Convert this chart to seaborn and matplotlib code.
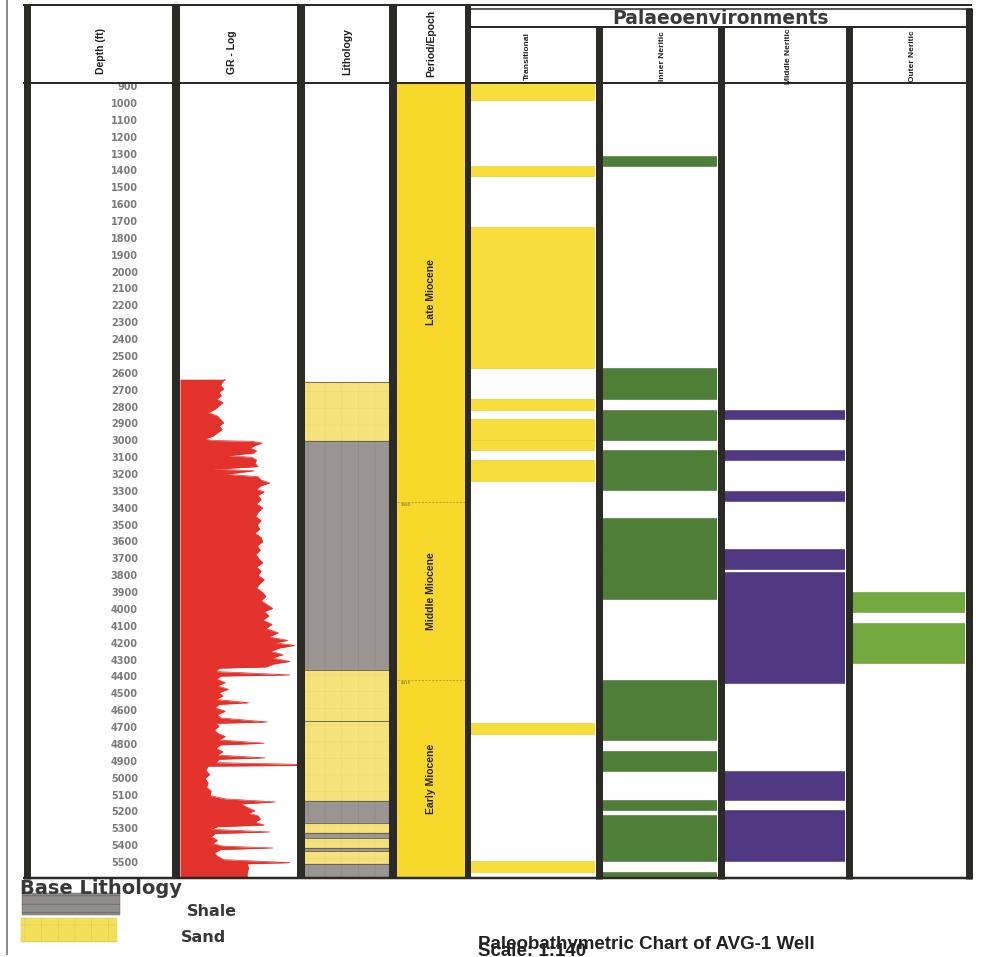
import numpy as np
import pandas as pd
import matplotlib
matplotlib.use("Agg")
import matplotlib.pyplot as plt
import seaborn as sns
from matplotlib.patches import Rectangle

sns.set_theme(style="white")
plt.rcParams["font.family"] = ["DejaVu Sans"]
plt.rcParams["hatch.linewidth"] = 0.4

W, H = 985, 957
TOP_DEPTH, BASE_DEPTH = 876, 5589
depth_ticks = list(range(900, 5600, 100))

# Gamma-ray log (depth in ft, GR in API)
gr_depth = [2632, 2650, 2670, 2690, 2710, 2730, 2750, 2770, 2790, 2810, 2830, 2850,
            2870, 2890, 2910, 2930, 2950, 2970, 2985, 2995, 3000, 3010, 3025, 3040,
            3055, 3070, 3085, 3095, 3110, 3130, 3150, 3165, 3175, 3195, 3210, 3230,
            3247, 3265, 3285, 3300, 3320, 3345, 3370, 3395, 3420, 3445, 3470, 3495,
            3520, 3545, 3570, 3595, 3620, 3645, 3670, 3695, 3720, 3745, 3770, 3795,
            3820, 3845, 3870, 3895, 3920, 3945, 3970, 3990, 4010, 4035, 4060, 4085,
            4110, 4135, 4160, 4180, 4195, 4210, 4225, 4245, 4265, 4285, 4305, 4320,
            4338, 4345, 4365, 4385, 4392, 4410, 4430, 4450, 4470, 4490, 4510, 4530,
            4550, 4560, 4580, 4600, 4620, 4640, 4664, 4672, 4690, 4710, 4730, 4750,
            4770, 4790, 4800, 4820, 4840, 4860, 4877, 4885, 4905, 4915, 4922, 4926,
            4950, 4975, 5000, 5025, 5050, 5075, 5100, 5120, 5138, 5150, 5170, 5190,
            5205, 5220, 5240, 5258, 5275, 5285, 5300, 5316, 5325, 5345, 5365, 5385,
            5400, 5411, 5420, 5440, 5460, 5480, 5498, 5505, 5530, 5560, 5589]
gr_api = [58, 54, 52, 56, 50, 53, 47, 55, 50, 45, 36, 48,
          52, 56, 50, 54, 48, 42, 32, 40, 92, 105, 96, 90,
          98, 94, 62, 92, 98, 96, 100, 42, 95, 58, 100, 104,
          115, 103, 98, 108, 100, 104, 98, 106, 100, 97, 104, 99,
          102, 96, 104, 106, 99, 103, 97, 101, 106, 98, 104, 100,
          108, 102, 98, 106, 110, 104, 112, 119, 108, 114, 106, 118,
          110, 126, 114, 138, 122, 147, 128, 116, 132, 118, 141, 120,
          110, 50, 46, 141, 52, 47, 58, 48, 62, 50, 55, 46,
          88, 50, 45, 58, 48, 52, 112, 46, 50, 44, 48, 58,
          50, 108, 52, 46, 55, 48, 109, 50, 46, 150, 150, 36,
          33, 38, 32, 36, 34, 40, 38, 58, 122, 78, 86, 96,
          88, 100, 103, 96, 108, 48, 40, 115, 45, 40, 48, 42,
          55, 119, 52, 44, 48, 56, 141, 86, 88, 86, 86]

# Lithology layers
lith_top = [2650, 3000, 4356, 4658, 5132, 5263, 5322, 5352, 5411, 5429, 5506]
lith_base = [3000, 4356, 4658, 5132, 5263, 5322, 5352, 5411, 5429, 5506, 5589]
lith_type = ["Sand", "Shale", "Sand", "Sand", "Shale", "Sand", "Shale", "Sand",
             "Shale", "Sand", "Shale"]

# Epochs
epoch_names = ["Late Miocene", "Middle Miocene", "Early Miocene"]
epoch_top = [876, 3360, 4415]
epoch_base = [3360, 4415, 5589]

# Palaeoenvironment intervals
env_names = ["Transitional", "Inner Neritic", "Middle Neritic", "Outer Neritic"]
trans_top = [876, 1370, 1730, 2750, 2870, 2990, 3110, 4670, 5490]
trans_base = [975, 1430, 2565, 2815, 2990, 3050, 3235, 4735, 5555]
inner_top = [1310, 2565, 2815, 3050, 3455, 3640, 3755, 4415, 4435, 4835, 5125, 5215, 5555]
inner_base = [1370, 2750, 2990, 3290, 3640, 3755, 3935, 4435, 4770, 4955, 5185, 5490, 5589]
middle_top = [2815, 3050, 3295, 3640, 3775, 4955, 5185]
middle_base = [2868, 3110, 3355, 3755, 4435, 5125, 5490]
outer_top = [3895, 4075]
outer_base = [4010, 4315]

RED = "#e3312b"
SAND = "#f5e27a"
SHALE = "#9a9592"
EPOCH_YELLOW = "#f7d82b"
TRANS_YELLOW = "#f7dd3a"
INNER_GREEN = "#4f7e39"
MIDDLE_PURPLE = "#513883"
OUTER_GREEN = "#73a93e"
LINE = "#2b2a27"
HEAD = dict(family=["Liberation Sans", "DejaVu Sans"], fontweight="bold")

fig = plt.figure(figsize=(W / 100, H / 100), dpi=100)
fig.patch.set_facecolor("white")


def add_col(x0, x1, y0=83, y1=878):
    ax = fig.add_axes([x0 / W, 1 - y1 / H, (x1 - x0) / W, (y1 - y0) / H])
    ax.set_ylim(BASE_DEPTH, TOP_DEPTH)
    ax.set_xlim(0, 1)
    ax.set_axis_off()
    return ax


def draw_bands(ax, tops, bases, color, edge=None):
    tops = np.asarray(tops, float)
    bases = np.asarray(bases, float)
    ax.barh(y=(tops + bases) / 2, width=1, height=bases - tops, left=0,
            color=color, edgecolor=edge if edge else color, linewidth=0.4)


# Depth column
ax_d = add_col(30, 172)
for d in depth_ticks:
    ax_d.text(0.76, d, f"{d}", transform=ax_d.get_yaxis_transform(), ha="right",
              va="center", fontsize=7, fontweight="bold", color="#7a7a7a")

# GR log
ax_gr = add_col(180, 297)
ax_gr.fill_betweenx(gr_depth, 0, gr_api, color=RED, linewidth=0)
sns.lineplot(x=gr_api, y=gr_depth, orient="y", sort=False, estimator=None,
             color=RED, linewidth=0.5, ax=ax_gr)
ax_gr.set_xlim(0, 150)
ax_gr.set_ylim(BASE_DEPTH, TOP_DEPTH)
ax_gr.set_axis_off()

# Lithology
ax_l = add_col(305, 389)
for t, b, kind in zip(lith_top, lith_base, lith_type):
    if kind == "Sand":
        ax_l.barh(y=(t + b) / 2, width=1, height=b - t, left=0, color=SAND,
                  edgecolor="#ecd876", hatch="+", linewidth=0.2)
    else:
        ax_l.barh(y=(t + b) / 2, width=1, height=b - t, left=0, color=SHALE,
                  edgecolor="#8a8582", hatch="|", linewidth=0.2)
    ax_l.axhline(t, color="#5d5a52", linewidth=0.6)

# Period / Epoch
ax_p = add_col(397, 466)
for name, t, b in zip(epoch_names, epoch_top, epoch_base):
    ax_p.barh(y=(t + b) / 2, width=1, height=b - t, left=0, color=EPOCH_YELLOW,
              linewidth=0)
    ax_p.text(0.5, (t + b) / 2, name, rotation=90, ha="center", va="center",
              fontsize=7.5, color="#2a2410", **HEAD)
for t in epoch_top[1:]:
    ax_p.axhline(t, color="#a08f2a", linewidth=0.5, linestyle=(0, (3, 2)))
    ax_p.text(0.05, t + 8, f"{t}", ha="left", va="top", fontsize=3,
              color="#6a6030")

# Palaeoenvironment columns
env_spans = [(470, 595), (602, 717), (724, 845), (852, 965)]
env_sets = [(trans_top, trans_base, TRANS_YELLOW, "#e7c92a"),
            (inner_top, inner_base, INNER_GREEN, "#44702f"),
            (middle_top, middle_base, MIDDLE_PURPLE, "#463077"),
            (outer_top, outer_base, OUTER_GREEN, "#669a36")]
for (x0, x1), (tops, bases, col, edge) in zip(env_spans, env_sets):
    ax_e = add_col(x0, x1)
    draw_bands(ax_e, tops, bases, col, edge)

# Frame, separators, headers and legend in pixel space
ov = fig.add_axes([0, 0, 1, 1], zorder=10)
ov.set_xlim(0, W)
ov.set_ylim(H, 0)
ov.set_axis_off()
ov.patch.set_alpha(0)

PT = 0.72  # points per pixel at 100 dpi

ov.plot([7, 7], [0, 955], color="#8a8a8a", linewidth=2 * PT, solid_capstyle="butt")

vlines = [(26.5, 7, 5), (176, 8, 5), (301, 8, 5), (393, 8, 5), (468, 6, 5),
          (598.5, 7, 27), (720.5, 7, 27), (848.5, 7, 27), (968.5, 7, 8)]
for x, w, ytop in vlines:
    ov.plot([x, x], [ytop, 879], color=LINE, linewidth=w * PT, solid_capstyle="butt")

for y, x0, x1, w in [(5, 23, 972, 2), (83, 23, 972, 2), (878, 23, 972, 2.5),
                     (8.5, 468, 972, 1.5), (26.5, 468, 972, 2)]:
    ov.plot([x0, x1], [y, y], color=LINE, linewidth=w * PT, solid_capstyle="butt")

ov.text(720, 18, "Palaeoenvironments", ha="center", va="center", fontsize=13.5,
        fontweight="bold", color="#3a3a3a")

headers = [(101, 51, "Depth (ft)"), (232, 52, "GR - Log"),
           (347, 52, "Lithology"), (431, 43, "Period/Epoch")]
for x, y, txt in headers:
    ov.text(x, y, txt, rotation=90, ha="center", va="center", fontsize=7.5,
            color="#1e1e1e", **HEAD)
for x, txt in zip([527, 663, 788, 913], env_names):
    ov.text(x, 56, txt, rotation=90, ha="center", va="center", fontsize=6,
            color="#1e1e1e", **HEAD)

# Lithology legend
ov.text(20, 889, "Base Lithology", ha="left", va="center", fontsize=14,
        fontweight="bold", color="#383838")
ov.add_patch(Rectangle((22, 893), 98, 22, facecolor="#8f8c8a", edgecolor="#5a5856",
                       hatch="--", linewidth=0.3))
ov.add_patch(Rectangle((21, 918), 96, 24, facecolor="#f3e05a", edgecolor="#ddc94f",
                       hatch="+", linewidth=0.3))
ov.text(212, 912, "Shale", ha="center", va="center", fontsize=11.5,
        fontweight="bold", color="#383838")
ov.text(203, 937, "Sand", ha="center", va="center", fontsize=11.5,
        fontweight="bold", color="#383838")

# Chart title and scale
ov.text(478, 943, "Scale: 1:140", ha="left", va="top", fontsize=13.5,
        fontweight="bold", family=["Liberation Sans", "DejaVu Sans"], color="#222222")
ov.text(478, 936, "Paleobathymetric Chart of AVG-1 Well", ha="left", va="top",
        fontsize=13.5, fontweight="bold", family=["Liberation Sans", "DejaVu Sans"],
        color="#222222")

fig.savefig("out.png", dpi=100, facecolor="white")
